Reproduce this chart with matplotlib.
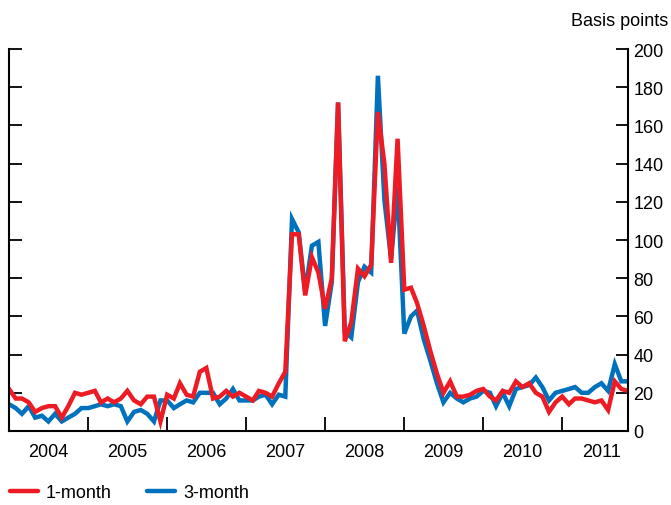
import numpy as np
import pandas as pd
import matplotlib
matplotlib.use("Agg")
import matplotlib.pyplot as plt
import matplotlib.dates as mdates
from matplotlib.lines import Line2D

plt.rcParams['font.family'] = ['Liberation Sans', 'DejaVu Sans']

# mensual, ene 2004 - nov 2011 (puntos basicos)
meses = pd.date_range('2004-01-01', periods=95, freq='MS')

un_mes = [
    22, 17, 17, 15, 10, 12, 13, 13, 7, 13, 20, 19,      # 2004
    20, 21, 15, 17, 15, 17, 21, 16, 14, 18, 18, 5,      # 2005
    19, 17, 25, 19, 18, 31, 33, 17, 18, 21, 18, 20,     # 2006
    18, 16, 21, 20, 18, 25, 31, 103, 103, 71, 91, 83,   # 2007
    64, 80, 172, 47, 57, 85, 81, 87, 167, 140, 88, 153, # 2008
    74, 75, 67, 55, 42, 30, 20, 26, 18, 18, 19, 21,     # 2009
    22, 18, 16, 21, 20, 26, 23, 25, 20, 18, 10, 15,     # 2010
    18, 14, 17, 17, 16, 15, 16, 11, 26, 22, 21,         # 2011
]
tres_meses = [
    14, 12, 9, 13, 7, 8, 5, 9, 5, 7, 9, 12,
    12, 13, 14, 13, 14, 13, 5, 10, 11, 9, 5, 16,
    16, 12, 14, 16, 15, 20, 20, 20, 14, 17, 22, 16,
    16, 16, 18, 19, 14, 19, 18, 111, 104, 73, 97, 99,
    55, 78, 172, 52, 49, 78, 86, 83, 186, 121, 90, 128,
    51, 60, 63, 48, 37, 25, 15, 20, 17, 15, 17, 18,
    21, 20, 13, 20, 13, 22, 23, 24, 28, 23, 16, 20,
    21, 22, 23, 20, 20, 23, 25, 21, 35, 26, 26,
]

rojo = '#ED1C24'
azul = '#0071BC'

fig = plt.figure(figsize=(6.71, 5.06), dpi=100)
ax = fig.add_axes([9/671, 74/506, 619/671, 382/506])

ax.plot(meses, tres_meses, color=azul, lw=3.2, solid_joinstyle='miter')
ax.plot(meses, un_mes, color=rojo, lw=3.2, solid_joinstyle='miter')

ax.set_xlim(meses[0], meses[-1])
ax.set_ylim(0, 200)

for s in ['left', 'right', 'bottom']:
    ax.spines[s].set_linewidth(1.5)
ax.spines['top'].set_visible(False)

# eje y: ticks a ambos lados, etiquetas a la derecha
ax.set_yticks(np.arange(0, 201, 20))
ax.yaxis.set_ticks_position('both')
ax.tick_params(axis='y', direction='in', length=9, width=1.3,
               labelleft=False, labelright=True, labelsize=13, pad=4)

# eje x: ticks en el cambio de año, etiquetas a mitad de año
ax.xaxis.set_major_locator(mdates.YearLocator(month=1, day=1))
ax.xaxis.set_major_formatter(plt.NullFormatter())
ax.xaxis.set_minor_locator(mdates.MonthLocator(bymonth=7, bymonthday=1))
ax.xaxis.set_minor_formatter(mdates.DateFormatter('%Y'))
ax.tick_params(axis='x', which='major', direction='in', length=10, width=1.3)
ax.tick_params(axis='x', which='minor', length=0, labelsize=13, pad=9)

fig.text(668/671, 1 - 22/506, 'Basis points', ha='right', va='center', fontsize=13)

handles = [Line2D([], [], color=rojo, lw=3.2, solid_capstyle='round'),
           Line2D([], [], color=azul, lw=3.2, solid_capstyle='round')]
fig.legend(handles, ['1-month', '3-month'], loc='center left',
           bbox_to_anchor=(10/671, 1 - 494/506), ncol=2, frameon=False,
           fontsize=13, handlelength=1.55, handletextpad=0.45, columnspacing=1.95,
           borderaxespad=0, borderpad=0)

fig.savefig('out.png', dpi=100)
